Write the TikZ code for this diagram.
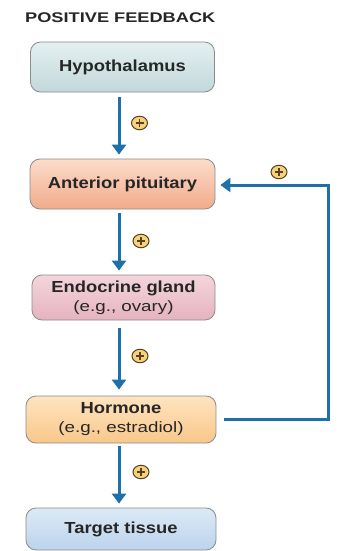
\documentclass[tikz,border=0pt]{standalone}
\usepackage{fontspec}
\usetikzlibrary{arrows.meta,shapes.geometric}
\setmainfont{Liberation Sans}
\newfontfamily\boxfont[FakeStretch=1.15]{Liberation Sans}
\newfontfamily\titlefont[FakeStretch=1.3]{Liberation Sans}
\newfontfamily\subfont[FakeStretch=1.25]{Liberation Sans}
\definecolor{arrowblue}{HTML}{1F6FA8}
\definecolor{txt}{HTML}{262626}
\definecolor{hypA}{HTML}{E4F0F1}\definecolor{hypB}{HTML}{C3D7DA}
\definecolor{antA}{HTML}{FCDCCB}\definecolor{antB}{HTML}{F1AB8B}
\definecolor{endA}{HTML}{F4D5DC}\definecolor{endB}{HTML}{E5B3C0}
\definecolor{horA}{HTML}{FEE4C0}\definecolor{horB}{HTML}{F9C78A}
\definecolor{tarA}{HTML}{DCEAF7}\definecolor{tarB}{HTML}{BCD3EC}
\definecolor{plusfill}{HTML}{F6D27C}
\definecolor{plusdraw}{HTML}{5A4220}
\begin{document}
\begin{tikzpicture}[x=1pt,y=-1pt,
  organ/.style={draw=black!45, line width=0.8pt, rounded corners=10pt,
    align=center, text=txt, inner sep=2pt, font=\boxfont\fontsize{16}{19}\selectfont\bfseries},
  arr/.style={draw=arrowblue, line width=3pt, -{Triangle[width=14pt,length=10pt]}},
  plus/.style={ellipse, draw=plusdraw, line width=1pt, fill=plusfill, minimum width=16pt, minimum height=13.5pt, inner sep=0pt,
    path picture={\draw[plusdraw, line width=1.4pt] ([xshift=-4pt]path picture bounding box.center) -- ([xshift=4pt]path picture bounding box.center);
      \draw[plusdraw, line width=1.4pt] ([yshift=-4pt]path picture bounding box.center) -- ([yshift=4pt]path picture bounding box.center);}}
]
\useasboundingbox (0,0) rectangle (347,551);
\fill[white] (0,0) rectangle (347,551);
\node[anchor=base west, inner sep=0pt, text=txt, font=\titlefont\fontsize{14}{16}\selectfont\bfseries] (title) at (25,23) {POSITIVE FEEDBACK};

\node[organ, top color=hypA, bottom color=hypB, minimum width=184pt, minimum height=50pt] (hyp) at (122.5,67) {Hypothalamus};
\node[organ, top color=antA, bottom color=antB, minimum width=185pt, minimum height=50pt] (ant) at (122.5,184) {Anterior pituitary};
\node[organ, top color=endA, bottom color=endB, minimum width=183pt, minimum height=45pt] (endo) at (123.5,297.5) {Endocrine gland\\{\subfont\fontsize{15}{19}\selectfont\mdseries (e.g., ovary)}};
\node[organ, top color=horA, bottom color=horB, minimum width=190pt, minimum height=47pt] (hor) at (121,419.5) {Hormone\\{\subfont\fontsize{15}{19}\selectfont\mdseries (e.g., estradiol)}};
\node[organ, top color=tarA, bottom color=tarB, minimum width=190pt, minimum height=42pt] (tar) at (121,529) {Target tissue};

\coordinate (ax) at (119,0);
\coordinate (fx) at (328,0);
\draw[arr] ([yshift=-5pt]hyp.south -| ax) -- ([yshift=4pt]ant.north -| ax);
\draw[arr] ([yshift=-4pt]ant.south -| ax) -- ([yshift=4pt]endo.north -| ax);
\draw[arr] ([yshift=-8pt]endo.south -| ax) -- ([yshift=6pt]hor.north -| ax);
\draw[arr] ([yshift=-3pt]hor.south -| ax) -- ([yshift=4pt]tar.north -| ax);

\coordinate (fb1) at ([xshift=8pt]hor.east);
\coordinate (fb2) at (fb1 -| fx);
\coordinate (fb4) at ([xshift=5pt,yshift=-1pt]ant.east);
\coordinate (fb3) at (fb4 -| fx);
\draw[arr] (fb1) -- (fb2) -- (fb3) -- (fb4);

\node[plus] (p1) at (139.5,123) {};
\node[plus] (p2) at (141,241) {};
\node[plus] (p3) at (140,356) {};
\node[plus] (p4) at (141,472) {};
\node[plus] (p5) at (279,172) {};
\end{tikzpicture}
\end{document}
